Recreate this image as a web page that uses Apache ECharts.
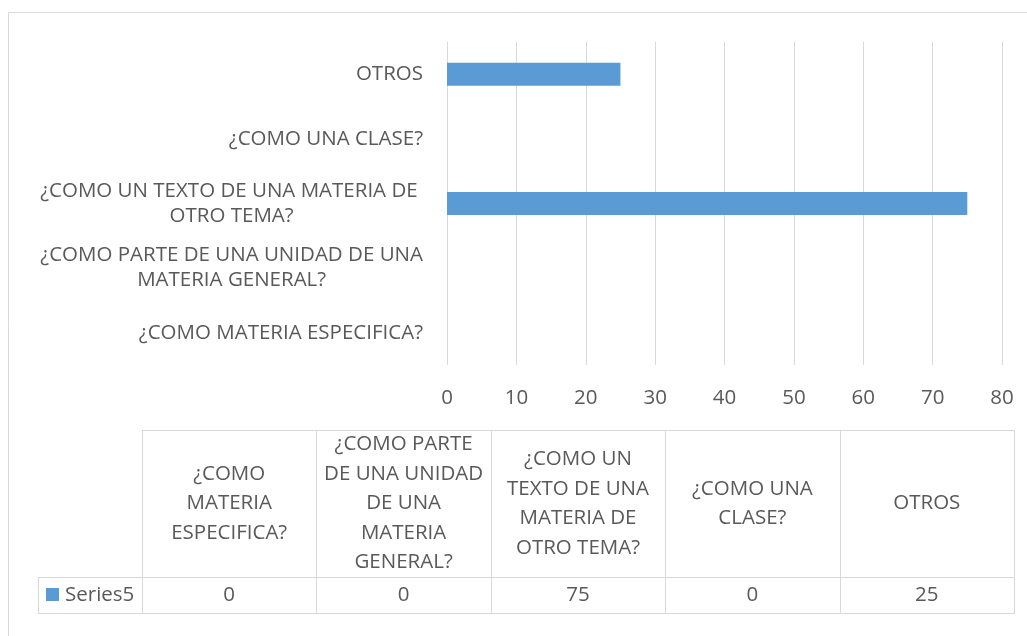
<!DOCTYPE html>
<html>
<head>
<meta charset="utf-8">
<script src="https://cdn.jsdelivr.net/npm/echarts@6/dist/echarts.min.js"></script>
<style>
  html, body { margin: 0; padding: 0; background: #fff; }
  #chart { width: 1027px; height: 636px; }
</style>
</head>
<body>
<div id="chart"></div>
<script>
// categories, bottom to top (same order as the data table)
const categories = [
  '¿COMO MATERIA ESPECIFICA?',
  '¿COMO PARTE DE UNA UNIDAD DE UNA MATERIA GENERAL?',
  '¿COMO UN TEXTO DE UNA MATERIA DE OTRO TEMA?',
  '¿COMO UNA CLASE?',
  'OTROS'
]
// how the axis wraps them
const axisLabels = [
  '¿COMO MATERIA ESPECIFICA?',
  '¿COMO PARTE DE UNA UNIDAD DE UNA\nMATERIA GENERAL?',
  '¿COMO UN TEXTO DE UNA MATERIA DE \nOTRO TEMA?',
  '¿COMO UNA CLASE?',
  'OTROS'
]
// how the table header wraps them
const tableHeaders = [
  '¿COMO\nMATERIA\nESPECIFICA?',
  '¿COMO PARTE\nDE UNA UNIDAD\nDE UNA\nMATERIA\nGENERAL?',
  '¿COMO UN\nTEXTO DE UNA\nMATERIA DE\nOTRO TEMA?',
  '¿COMO UNA\nCLASE?',
  'OTROS'
]
const seriesName = 'Series5'
const values = [0, 0, 75, 0, 25]
const xTicks = { min: 0, max: 80, interval: 10 }

const FONT = 'Open Sans'
const FS = 20.5
const TEXT = '#595959'
const LINE = '#d9d9d9'
const BAR = '#5b9bd5'

const chart = echarts.init(document.getElementById('chart'))

// data table geometry
const tbl = { left: 38, colLeft: 142, right: 1014, top: 430, mid: 577, bottom: 613 }
const colW = (tbl.right - tbl.colLeft) / categories.length

const graphics = []
// outer chart border
graphics.push({
  type: 'rect', shape: { x: 8.5, y: 12.5, width: 1040, height: 660 },
  style: { fill: 'none', stroke: LINE, lineWidth: 1 }, silent: true
})
const hline = (x1, x2, y) => graphics.push({
  type: 'line', shape: { x1, y1: y + 0.5, x2, y2: y + 0.5 },
  style: { stroke: LINE, lineWidth: 1 }, silent: true
})
const vline = (x, y1, y2) => graphics.push({
  type: 'line', shape: { x1: x + 0.5, y1, x2: x + 0.5, y2 },
  style: { stroke: LINE, lineWidth: 1 }, silent: true
})
hline(tbl.colLeft, tbl.right, tbl.top)
hline(tbl.left, tbl.right, tbl.mid)
hline(tbl.left, tbl.right, tbl.bottom)
vline(tbl.left, tbl.mid, tbl.bottom + 1)
for (let i = 0; i <= categories.length; i++) {
  vline(Math.round(tbl.colLeft + i * colW), tbl.top, tbl.bottom + 1)
}
tableHeaders.forEach((h, i) => {
  graphics.push({
    type: 'text', silent: true,
    x: tbl.colLeft + (i + 0.5) * colW, y: (tbl.top + tbl.mid) / 2,
    style: { text: h, align: 'center', verticalAlign: 'middle', fill: TEXT,
      font: FS + 'px "' + FONT + '"', lineHeight: 29.5 }
  })
})
values.forEach((v, i) => {
  graphics.push({
    type: 'text', silent: true,
    x: tbl.colLeft + (i + 0.5) * colW, y: (tbl.mid + tbl.bottom) / 2,
    style: { text: String(v), align: 'center', verticalAlign: 'middle', fill: TEXT,
      font: FS + 'px "' + FONT + '"' }
  })
})
// legend key in the table
graphics.push({
  type: 'rect', silent: true, shape: { x: 46, y: 588, width: 13, height: 13 },
  style: { fill: BAR }
})
graphics.push({
  type: 'text', silent: true, x: 65, y: (tbl.mid + tbl.bottom) / 2,
  style: { text: seriesName, align: 'left', verticalAlign: 'middle', fill: TEXT,
    font: FS + 'px "' + FONT + '"' }
})

chart.setOption({
  animation: false,
  textStyle: { fontFamily: FONT },
  grid: { left: 447, right: 25, top: 42, bottom: 271, containLabel: false },
  xAxis: {
    type: 'value',
    min: xTicks.min, max: xTicks.max, interval: xTicks.interval,
    axisLine: { show: false },
    axisTick: { show: false },
    axisLabel: { color: TEXT, fontSize: FS, margin: 23 },
    splitLine: { show: true, lineStyle: { color: LINE, width: 1 } }
  },
  yAxis: {
    type: 'category',
    data: categories,
    axisLine: { show: false },
    axisTick: { show: false },
    axisLabel: {
      color: TEXT, fontSize: FS, margin: 24, lineHeight: 25,
      formatter: (v, i) => axisLabels[i].split('\n').map(l => '{c|' + l + '}').join('\n'),
      rich: { c: { align: 'center', color: TEXT, fontSize: FS, lineHeight: 25, fontFamily: FONT } }
    }
  },
  series: [{
    name: seriesName,
    type: 'bar',
    data: values,
    barWidth: 23,
    itemStyle: { color: BAR }
  }],
  graphic: graphics
})
</script>
</body>
</html>
